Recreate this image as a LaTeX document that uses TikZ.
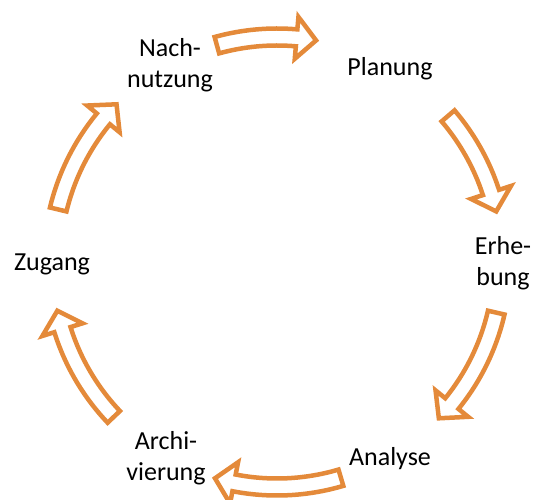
\documentclass[tikz,border=0pt]{standalone}
\usepackage{fontspec}
\setmainfont{Carlito}
\definecolor{arrorange}{RGB}{228,138,58}
\begin{document}
\begin{tikzpicture}[x=1pt,y=1pt,
  lbl/.style={font=\fontsize{26}{31}\selectfont, align=center, inner sep=0pt, text=black},
  cyc/.style={draw=arrorange, line width=4.5pt, fill=white, line join=miter, miter limit=10}]
\useasboundingbox (0,0) rectangle (535,500);
\node[lbl] (nach) at (170,434.5) {Nach-\\nutzung};
\node[lbl] (plan) at (390,431) {Planung};
\node[lbl] (erh)  at (503,237) {Erhe-\\bung};
\node[lbl] (ana)  at (390,41.5) {Analyse};
\node[lbl] (arch) at (166,42) {Archi-\\vierung};
\node[lbl] (zug)  at (52,235.5) {Zugang};
\begin{scope}[shift={(277,238)}]
\foreach \ta/\tp in {105.5/80, 40.5/13, -13/-44, -73.5/-106, -136.5/-167.5, 166.5/135.5} {
  \pgfmathsetmacro\hb{\tp+5}
  \draw[cyc] (\ta:233.5pt) arc[start angle=\ta, end angle=\hb, radius=233.5pt]
    -- (\hb:246pt) -- (\tp:225pt) -- (\hb:204pt) -- (\hb:216.5pt)
    arc[start angle=\hb, end angle=\ta, radius=216.5pt] -- cycle;
}
\end{scope}
\end{tikzpicture}
\end{document}
